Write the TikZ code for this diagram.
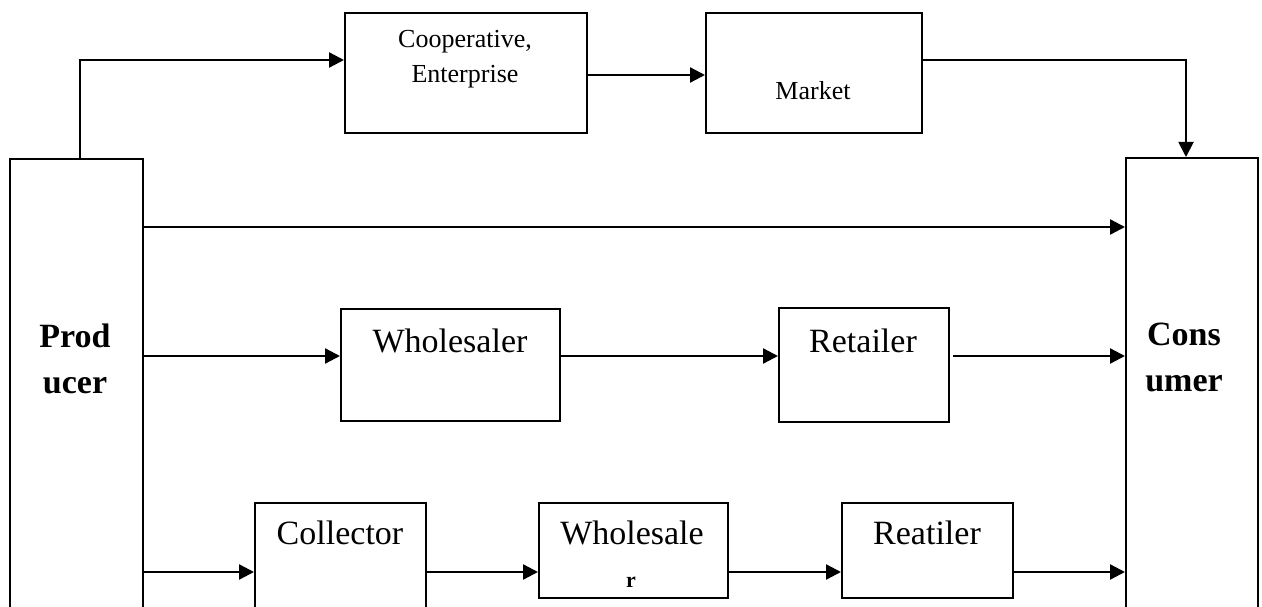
\documentclass[tikz,border=0pt]{standalone}
\usepackage{fontspec}
\setmainfont{Liberation Serif}
\usetikzlibrary{arrows.meta,calc}
\tikzset{
  box/.style={draw=black, line width=1.9pt, fill=none, inner sep=0pt, anchor=north west},
  arr/.style={draw=black, line width=2.3pt, -{Triangle[length=15pt,width=15pt]}},
  big/.style={inner sep=0pt, anchor=base, font=\fontsize{34}{40}\selectfont},
  bigb/.style={inner sep=0pt, anchor=base, font=\fontsize{34}{40}\selectfont\bfseries},
  small/.style={inner sep=0pt, anchor=base, font=\fontsize{26}{32}\selectfont},
  tiny/.style={inner sep=0pt, anchor=base, font=\fontsize{22}{26}\selectfont\bfseries}
}
\begin{document}
\begin{tikzpicture}[x=1pt,y=-1pt]
\useasboundingbox (0,0) rectangle (1262,607);
\clip (0,0) rectangle (1262,607);
\fill[white] (0,0) rectangle (1262,607);
% boxes
\node[box, minimum width=133pt, minimum height=500pt] (prod) at (9,158) {};
\node[box, minimum width=132pt, minimum height=500pt] (cons) at (1125,157) {};
\node[box, minimum width=242pt, minimum height=120pt] (coop) at (344,12) {};
\node[box, minimum width=216pt, minimum height=120pt] (market) at (705,12) {};
\node[box, minimum width=219pt, minimum height=112pt] (wsl) at (340,308) {};
\node[box, minimum width=170pt, minimum height=114pt] (ret) at (778,307) {};
\node[box, minimum width=171pt, minimum height=200pt] (col) at (254,502) {};
\node[box, minimum width=189pt, minimum height=95pt] (ws) at (538,502) {};
\node[box, minimum width=171pt, minimum height=95pt] (reat) at (841,502) {};
% texts
\node[small] (t1a) at (465,48) {Cooperative,};
\node[small] (t1b) at (465,83) {Enterprise};
\node[small] (t2) at (813,100) {Market};
\node[bigb] (t3a) at (75,347) {Prod};
\node[bigb] (t3b) at (75,393) {ucer};
\node[bigb] (t4a) at (1184,345) {Cons};
\node[bigb] (t4b) at (1184,391) {umer};
\node[big] (t5) at (450,352) {Wholesaler};
\node[big] (t6) at (863,352) {Retailer};
\node[big] (t7) at (340,544) {Collector};
\node[big] (t8a) at (632,544) {Wholesale};
\node[tiny] (t8b) at (631,587) {r};
\node[big] (t9) at (927,544) {Reatiler};
% row coordinates
\coordinate (xa) at (80,0);
\coordinate (ya) at (0,60);
\coordinate (yb) at (0,75);
\coordinate (xc) at (1186,0);
\coordinate (r2) at (0,227);
\coordinate (r3) at (0,356);
\coordinate (r4) at (0,572);
\coordinate (retout) at (953,356);
% connectors
\draw[arr] (xa |- prod.north) |- (coop.west |- ya);
\draw[arr] (coop.east |- yb) -- (market.west |- yb);
\draw[arr, line width=1.9pt] (market.east |- ya) -| (xc |- cons.north);
\draw[arr] (prod.east |- r2) -- (cons.west |- r2);
\draw[arr] (prod.east |- r3) -- (wsl.west |- r3);
\draw[arr] (wsl.east |- r3) -- (ret.west |- r3);
\draw[arr] (retout) -- (cons.west |- r3);
\draw[arr] (prod.east |- r4) -- (col.west |- r4);
\draw[arr] (col.east |- r4) -- (ws.west |- r4);
\draw[arr] (ws.east |- r4) -- (reat.west |- r4);
\draw[arr] (reat.east |- r4) -- (cons.west |- r4);
\end{tikzpicture}
\end{document}
